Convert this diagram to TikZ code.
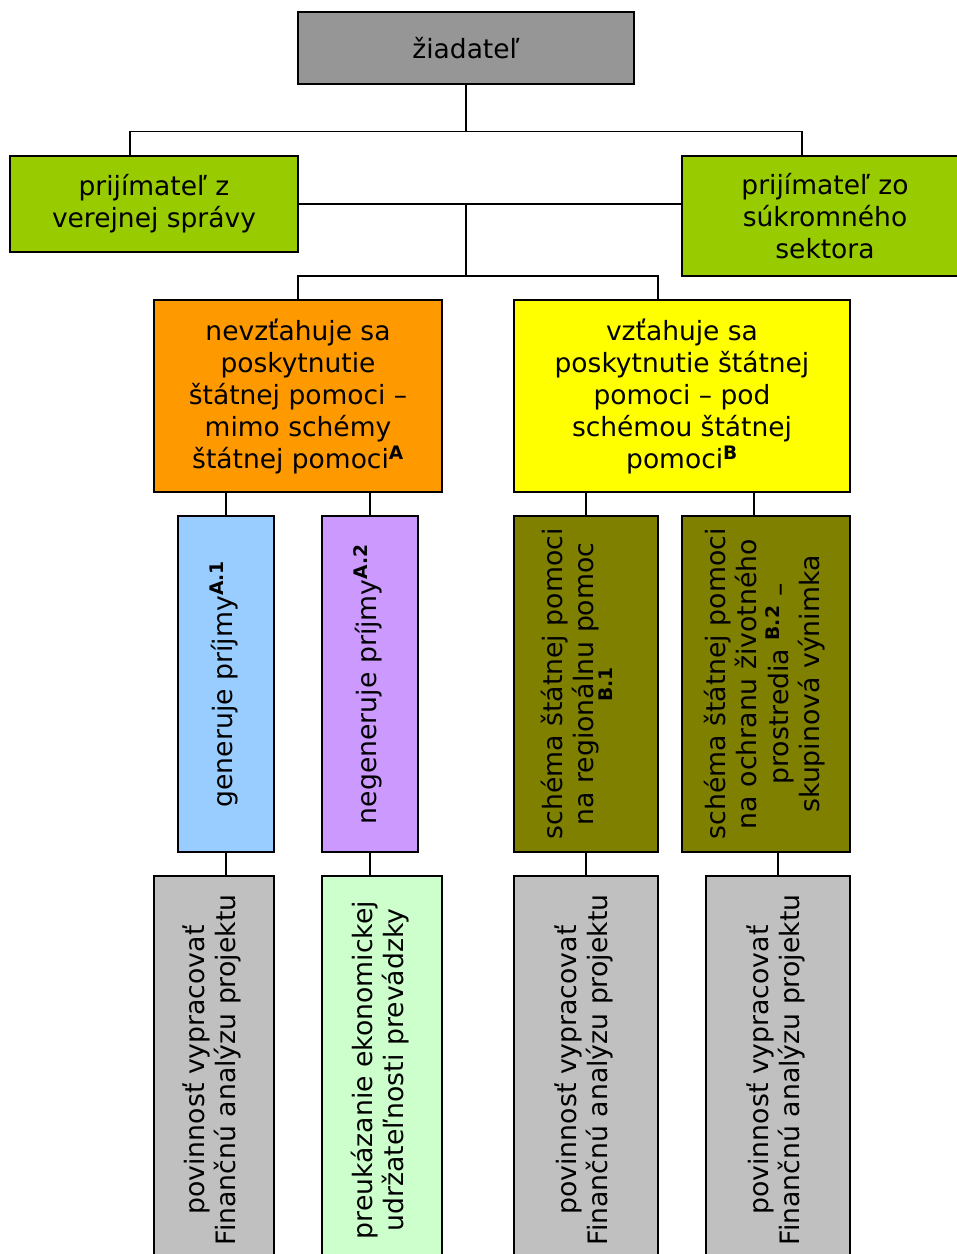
\documentclass[tikz,border=0pt]{standalone}
\usepackage{fontspec}
\usepackage{graphicx}
\setmainfont{DejaVu Sans}
\usetikzlibrary{calc}
\definecolor{headgray}{HTML}{969696}
\definecolor{recgreen}{HTML}{99CC00}
\definecolor{aidorange}{HTML}{FF9900}
\definecolor{aidyellow}{HTML}{FFFF00}
\definecolor{incblue}{HTML}{99CCFF}
\definecolor{incviolet}{HTML}{CC99FF}
\definecolor{schemeolive}{HTML}{808000}
\definecolor{dutygray}{HTML}{C0C0C0}
\definecolor{dutymint}{HTML}{CCFFCC}
\newcommand{\uptext}[1]{\rotatebox{90}{\begin{tabular}{@{}c@{}}#1\end{tabular}}}
\newcommand{\sx}[1]{\textsuperscript{\bfseries #1}}
\tikzset{
    box/.style =    {rectangle,
                    draw=black,
                    text=black,
                    line width=1.5pt,
                    align=center,
                    inner sep=0pt},
    hbox/.style 2 args = {box,
                    minimum width=#1,
                    minimum height=#2,
                    font=\fontsize{26.5}{32}\selectfont},
    vbox/.style 2 args = {box,
                    minimum width=#1,
                    minimum height=#2,
                    font=\fontsize{26.7}{31}\selectfont},
    link/.style =   {draw=black,
                    line width=1.2pt},
    x=1pt,
    y=-1pt}

\begin{document}
\begin{tikzpicture}
    \useasboundingbox (0,0) rectangle (957,1254);
    \node[hbox={336}{72},fill=headgray]     (zia)  at (466,48)   {žiadateľ};
    \node[hbox={288}{96},fill=recgreen]     (pub)  at (154,204)  {prijímateľ z\\verejnej správy};
    \node[hbox={286}{120},fill=recgreen]    (priv) at (825,216)  {prijímateľ zo\\súkromného\\sektora};
    \node[hbox={288}{192},fill=aidorange]   (mimo) at (298,396)  {nevzťahuje sa\\poskytnutie\\štátnej pomoci –\\mimo schémy\\štátnej pomoci\sx{A}};
    \node[hbox={336}{192},fill=aidyellow]   (pod)  at (682,396)  {vzťahuje sa\\poskytnutie štátnej\\pomoci – pod\\schémou štátnej\\pomoci\sx{B}};
    \node[vbox={96}{336},fill=incblue]      (gen)  at (226,684)  {\uptext{generuje príjmy\sx{A.1}}};
    \node[vbox={96}{336},fill=incviolet]    (neg)  at (370,684)  {\uptext{negeneruje príjmy\sx{A.2}}};
    \node[vbox={144}{336},fill=schemeolive] (reg)  at (586,684)  {\uptext{schéma štátnej pomoci\\na regionálnu pomoc\\[-4pt]\sx{B.1}}};
    \node[vbox={168}{336},fill=schemeolive] (env)  at (766,684)  {\uptext{schéma štátnej pomoci\\na ochranu životného\\prostredia \sx{B.2} –\\skupinová výnimka}};
    \node[vbox={120}{388},fill=dutygray]    (fa1)  at (214,1070) {\uptext{povinnosť vypracovať\\Finančnú analýzu projektu}};
    \node[vbox={120}{388},fill=dutymint]    (eko)  at (382,1070) {\uptext{preukázanie ekonomickej\\udržateľnosti prevádzky}};
    \node[vbox={144}{388},fill=dutygray]    (fa2)  at (586,1070) {\uptext{povinnosť vypracovať\\Finančnú analýzu projektu}};
    \node[vbox={144}{388},fill=dutygray]    (fa3)  at (778,1070) {\uptext{povinnosť vypracovať\\Finančnú analýzu projektu}};
    \coordinate (top)   at ($(zia.south)+(0,47)$);
    \coordinate (mid)   at (zia.south |- pub.east);
    \coordinate (low)   at ($(mid)+(0,72)$);
    \coordinate (envin) at ($(env.north)+(-12,0)$);
    \path[link] (zia.south) edge (top)
                ($(pub.north)+(-24,0)$) edge[to path={|- (\tikztotarget)}] (top)
                ($(priv.north)+(-23,0)$) edge[to path={|- (\tikztotarget)}] (top)
                (pub.east) edge (priv.west |- pub.east)
                (mid) edge (low)
                (mimo.north) edge[to path={|- (\tikztotarget)}] (low)
                ($(pod.north)+(-24,0)$) edge[to path={|- (\tikztotarget)}] (low)
                (gen.north) edge (gen.north |- mimo.south)
                (neg.north) edge (neg.north |- mimo.south)
                (reg.north) edge (reg.north |- pod.south)
                (envin) edge (envin |- pod.south)
                (gen.south) edge (gen.south |- fa1.north)
                (neg.south) edge (neg.south |- eko.north)
                (reg.south) edge (reg.south |- fa2.north)
                (fa3.north) edge (fa3.north |- env.south);
\end{tikzpicture}
\end{document}
